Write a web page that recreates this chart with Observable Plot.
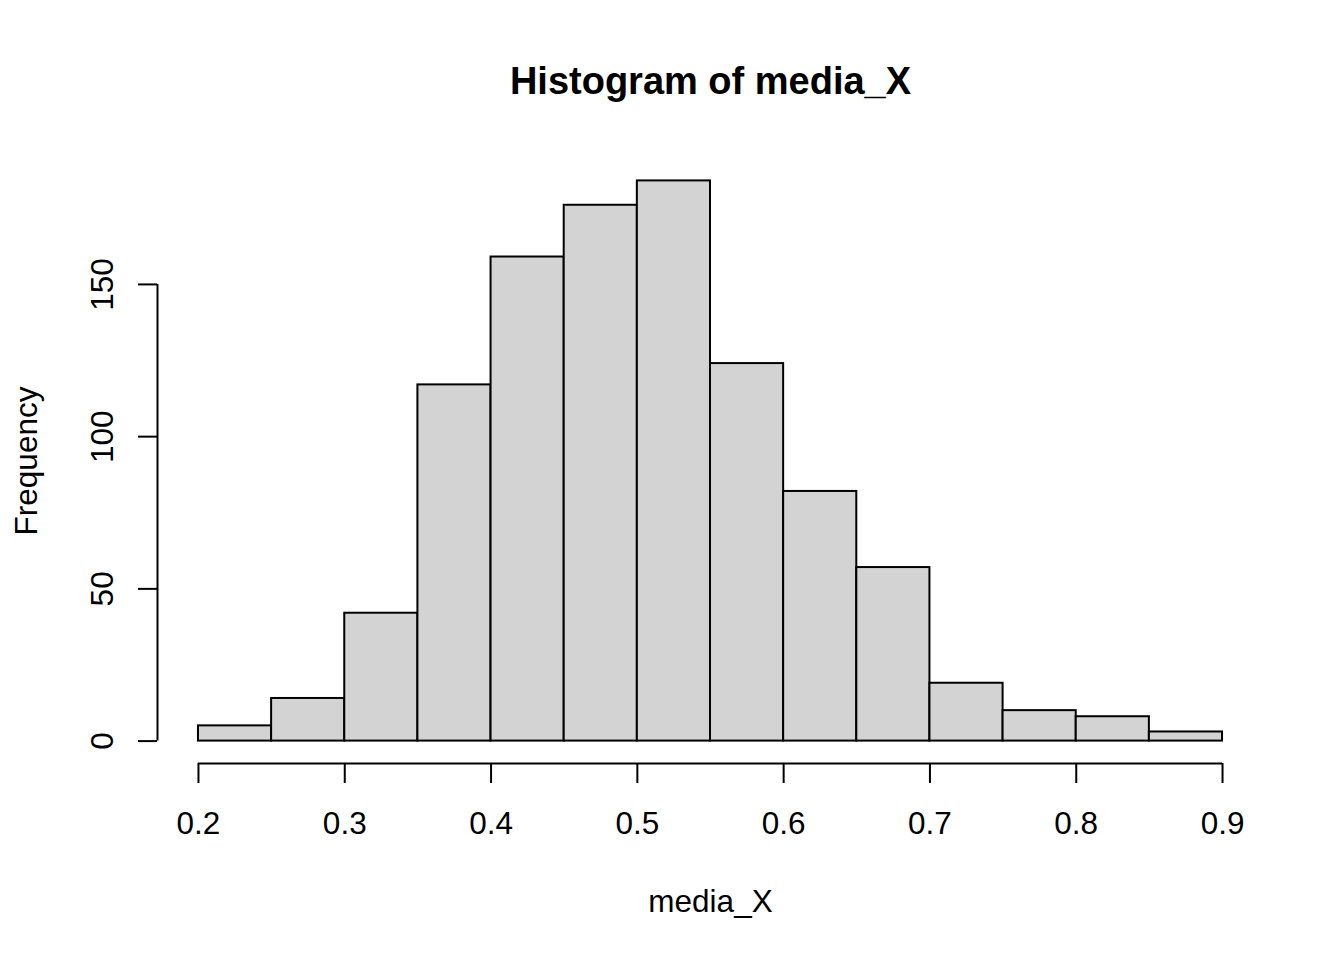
<!DOCTYPE html>
<html>
<head>
<meta charset="utf-8">
<script src="https://cdn.jsdelivr.net/npm/d3@7"></script>
<script src="https://cdn.jsdelivr.net/npm/@observablehq/plot@0.6"></script>
<style>
  html, body { margin: 0; padding: 0; background: white; }
</style>
</head>
<body>
<div id="chart"></div>
<script>
const breaks = [0.20, 0.25, 0.30, 0.35, 0.40, 0.45, 0.50, 0.55, 0.60, 0.65, 0.70, 0.75, 0.80, 0.85, 0.90];
const counts = [5, 14, 42, 117, 159, 176, 184, 124, 82, 57, 19, 10, 8, 3];
const xTicks = [0.2, 0.3, 0.4, 0.5, 0.6, 0.7, 0.8, 0.9];
const yTicks = [0, 50, 100, 150];
const title = "Histogram of media_X";
const xLabel = "media_X";
const yLabel = "Frequency";

const bins = counts.map((c, i) => ({x1: breaks[i], x2: breaks[i + 1], count: c}));

const xMin = breaks[0], xMax = breaks[breaks.length - 1];
const xPad = (xMax - xMin) * 0.04;
const yMaxData = d3.max(counts);
const yPad = yMaxData * 0.04;
const xDomain = [xMin - xPad, xMax + xPad];
const yDomain = [0 - yPad, yMaxData + yPad];

const font = "'Liberation Sans', Arial, sans-serif";
const fs = 31.5;

const chart = Plot.plot({
  width: 1344,
  height: 960,
  marginLeft: 157,
  marginRight: 81,
  marginTop: 158,
  marginBottom: 197,
  style: {fontFamily: font, fontSize: fs + "px", color: "black", background: "white"},
  x: {domain: xDomain},
  y: {domain: yDomain},
  marks: [
    Plot.rectY(bins, {x1: "x1", x2: "x2", y1: 0, y2: "count", fill: "#d3d3d3", stroke: "black", strokeWidth: 2}),
    Plot.ruleY([yDomain[0]], {x1: xMin, x2: xMax, stroke: "black", strokeWidth: 2}),
    Plot.ruleX([xDomain[0]], {y1: yTicks[0], y2: yTicks[yTicks.length - 1], stroke: "black", strokeWidth: 2}),
    Plot.axisX({ticks: xTicks, tickSize: 20, tickPadding: 28, fontSize: fs, strokeWidth: 2, tickFormat: d => d.toFixed(1), label: null}),
    Plot.axisY({ticks: yTicks, tickSize: 19, strokeWidth: 2, tickFormat: () => "", label: null}),
    Plot.text(yTicks, {x: () => xDomain[0], y: d => d, text: d => String(d), rotate: -90, lineAnchor: "bottom", textAnchor: "middle", dx: -45, fontSize: fs}),
    Plot.text([yLabel], {frameAnchor: "left", text: d => d, rotate: -90, lineAnchor: "bottom", textAnchor: "middle", dx: -121, fontSize: fs}),
    Plot.text([xLabel], {frameAnchor: "bottom", text: d => d, lineAnchor: "bottom", dy: 148, fontSize: fs}),
    Plot.text([title], {frameAnchor: "top", text: d => d, lineAnchor: "bottom", dy: -65, fontSize: 38, fontWeight: "bold"})
  ]
});
document.getElementById("chart").appendChild(chart);
</script>
</body>
</html>
